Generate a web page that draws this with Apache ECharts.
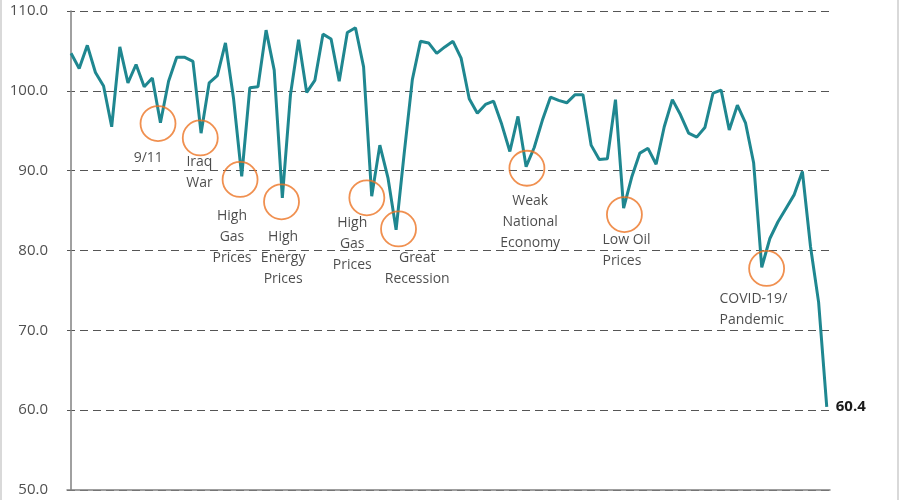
<!DOCTYPE html>
<html>
<head>
<meta charset="utf-8">
<script src="https://cdn.jsdelivr.net/npm/echarts@6/dist/echarts.min.js"></script>
<style>
  html, body { margin: 0; padding: 0; background: #fff; }
  #chart { width: 900px; height: 500px; }
</style>
</head>
<body>
<div id="chart"></div>
<script>
// index values, one per period
const values = [
  104.7, 102.8, 105.7, 102.3, 100.6, 95.5, 105.5, 101.0, 103.3, 100.5,
  101.6, 96.0, 101.2, 104.2, 104.2, 103.7, 94.7, 101.0, 101.9, 106.0,
  99.0, 89.3, 100.4, 100.5, 107.6, 102.6, 86.6, 99.5, 106.4, 99.8,
  101.3, 107.1, 106.5, 101.2, 107.3, 107.9, 103.0, 86.8, 93.2, 89.1,
  82.6, 92.2, 101.4, 106.2, 106.0, 104.7, 105.5, 106.2, 104.1, 99.0,
  97.2, 98.3, 98.7, 95.8, 92.4, 96.8, 90.5, 92.9, 96.3, 99.2,
  98.8, 98.5, 99.5, 99.5, 93.2, 91.4, 91.5, 98.9, 85.3, 89.2,
  92.2, 92.8, 90.8, 95.5, 98.9, 97.0, 94.7, 94.2, 95.4, 99.7,
  100.1, 95.1, 98.2, 96.0, 91.0, 77.9, 81.5, 83.6, 85.3, 87.0,
  89.9, 80.5, 73.5, 60.4
];

const yTicks = [50, 60, 70, 80, 90, 100, 110];

// events: circle centre [period, value]
const eventNames = ['9/11', 'Iraq War', 'High Gas Prices', 'High Energy Prices',
  'High Gas Prices', 'Great Recession', 'Weak National Economy', 'Low Oil Prices',
  'COVID-19/ Pandemic'];
const eventCircles = [
  [10.7, 95.9], [15.9, 94.1], [20.8, 88.9], [25.9, 86.1], [36.4, 86.6],
  [40.3, 82.7], [56.1, 90.3], [68.1, 84.5], [85.6, 77.75]
];
// label text and where it sits [period, value]
const eventLabels = ['9/11', 'Iraq\nWar', 'High\nGas\nPrices', 'High\nEnergy\nPrices',
  'High\nGas\nPrices', 'Great\nRecession', 'Weak\nNational\nEconomy', 'Low Oil\nPrices',
  'COVID-19/\nPandemic'];
const eventLabelAt = [
  [9.5, 91.6], [15.8, 89.8], [19.8, 81.75], [26.1, 79.0], [34.6, 80.8],
  [42.6, 77.7], [56.5, 83.6], [65.4, 80.0], [79.8, 72.6]
];
const leftAligned = [false, false, false, false, false, false, false, true, true];

const FONT = '"Open Sans", sans-serif';
const chart = echarts.init(document.getElementById('chart'), null, { renderer: 'canvas' });

chart.setOption({
  animation: false,
  grid: { left: 67, right: 70, top: 11, bottom: 10 },
  xAxis: {
    type: 'value', min: -0.5, max: 93.4,
    axisLine: { show: true, onZero: false, lineStyle: { color: '#808080', width: 1.5 } },
    axisTick: { show: false },
    axisLabel: { show: false },
    splitLine: { show: false }
  },
  yAxis: {
    type: 'value', min: yTicks[0], max: yTicks[yTicks.length - 1], interval: 10,
    axisLine: { show: true, lineStyle: { color: '#808080', width: 1.5 } },
    axisTick: { show: false },
    axisLabel: {
      margin: 19, fontFamily: FONT, fontSize: 15, color: '#505050',
      formatter: (v) => v.toFixed(1)
    },
    splitLine: { show: true, lineStyle: { color: '#555555', width: 1, type: [8, 5] } }
  },
  graphic: [
    { type: 'line', shape: { x1: 1, y1: 0, x2: 1, y2: 500 }, style: { stroke: '#d9d9d9', lineWidth: 2 } },
    { type: 'line', shape: { x1: 898, y1: 0, x2: 898, y2: 500 }, style: { stroke: '#d9d9d9', lineWidth: 2 } }
  ],
  series: [
    {
      type: 'line',
      data: values.map((v, i) => [i, v]),
      symbol: 'none',
      lineStyle: { color: '#1f8790', width: 3 },
      endLabel: {
        show: true, distance: 9,
        formatter: (p) => p.value[1].toFixed(1),
        fontFamily: FONT, fontSize: 15, fontWeight: 'bold', color: '#1a1a1a'
      },
      z: 3
    },
    {
      type: 'scatter',
      data: eventCircles.map((c, i) => ({ name: eventNames[i], value: c })),
      symbol: 'circle',
      symbolSize: 35,
      itemStyle: { color: 'rgba(0,0,0,0)', borderColor: '#ec7424', borderWidth: 1.8 },
      silent: true,
      z: 4
    },
    {
      type: 'scatter',
      data: eventLabelAt.map((c, i) => ({
        name: eventNames[i],
        value: c,
        label: {
          show: true,
          position: 'inside',
          align: leftAligned[i] ? 'left' : 'center',
          verticalAlign: 'middle',
          formatter: eventLabels[i]
        }
      })),
      symbolSize: 0,
      label: { fontFamily: FONT, fontSize: 14, lineHeight: 21, color: '#1e1e1e' },
      silent: true,
      z: 5
    }
  ]
});
</script>
</body>
</html>
